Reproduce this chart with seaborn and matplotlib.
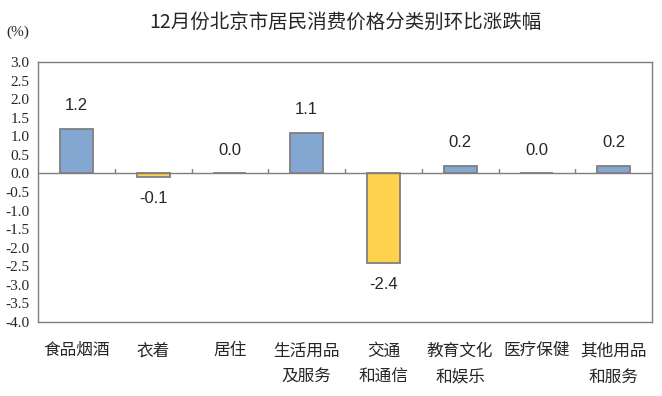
import numpy as np
import pandas as pd
import matplotlib
matplotlib.use("Agg")
import matplotlib.pyplot as plt
import seaborn as sns

categories = ["食品烟酒", "衣着", "居住", "生活用品\n及服务", "交通\n和通信",
              "教育文化\n和娱乐", "医疗保健", "其他用品\n和服务"]
values = [1.2, -0.1, 0.0, 1.1, -2.4, 0.2, 0.0, 0.2]
value_labels = ["1.2", "-0.1", "0.0", "1.1", "-2.4", "0.2", "0.0", "0.2"]
y_ticks = np.arange(-4.0, 3.01, 0.5)

sns.set_style("white")
plt.rcParams['font.family'] = ['Noto Sans CJK SC', 'DejaVu Sans']

df = pd.DataFrame({"cat": categories, "val": values})
df["sign"] = np.where(df["val"] < 0, "neg", "pos")

fig = plt.figure(figsize=(6.62, 3.96), dpi=100)
ax = fig.add_axes([38 / 662, 74 / 396, 614 / 662, 260 / 396])

sns.barplot(data=df, x="cat", y="val", hue="sign", dodge=False,
            palette={"pos": "#84A7D2", "neg": "#FFD24D"}, width=0.43,
            saturation=1, edgecolor="#7F7F7F", linewidth=1.3,
            legend=False, ax=ax)

ax.set_xlim(-0.5, len(categories) - 0.5)
ax.set_ylim(-4.0, 3.0)
ax.set_yticks(y_ticks)
ax.set_yticklabels([f"{t:.1f}" for t in y_ticks], family="Liberation Serif", fontsize=11)
ax.tick_params(axis="y", direction="in", length=4, color="#7F7F7F", pad=6)
ax.set_xticks([])
ax.set_xlabel("")
ax.set_ylabel("")
for s in ax.spines.values():
    s.set_color("#7F7F7F")
    s.set_linewidth(1.0)

# zero line with boundary ticks
ax.axhline(0, color="#7F7F7F", lw=1.0, zorder=1)
for b in np.arange(0.5, len(categories) - 0.5, 1):
    ax.plot([b, b], [0, 0.12], color="#7F7F7F", lw=1.0, zorder=1)

# category labels
for i, c in enumerate(categories):
    ax.text(i, -4.55, c, ha="center", va="top", fontsize=12,
            linespacing=1.7)

# value labels
for i, (v, lab) in enumerate(zip(values, value_labels)):
    if v >= 0:
        ax.text(i, v + 0.42, lab, ha="center", va="bottom", fontsize=12,
                family="Liberation Sans")
    else:
        ax.text(i, v - 0.38, lab, ha="center", va="top", fontsize=12,
                family="Liberation Sans")

fig.text(345 / 662, 1 - 22 / 396, "12月份北京市居民消费价格分类别环比涨跌幅",
         ha="center", va="center", fontsize=14)
fig.text(18 / 662, 1 - 32 / 396, "(%)", ha="center", va="center",
         fontsize=11, family="Liberation Serif")

fig.savefig("out.png", dpi=100)
